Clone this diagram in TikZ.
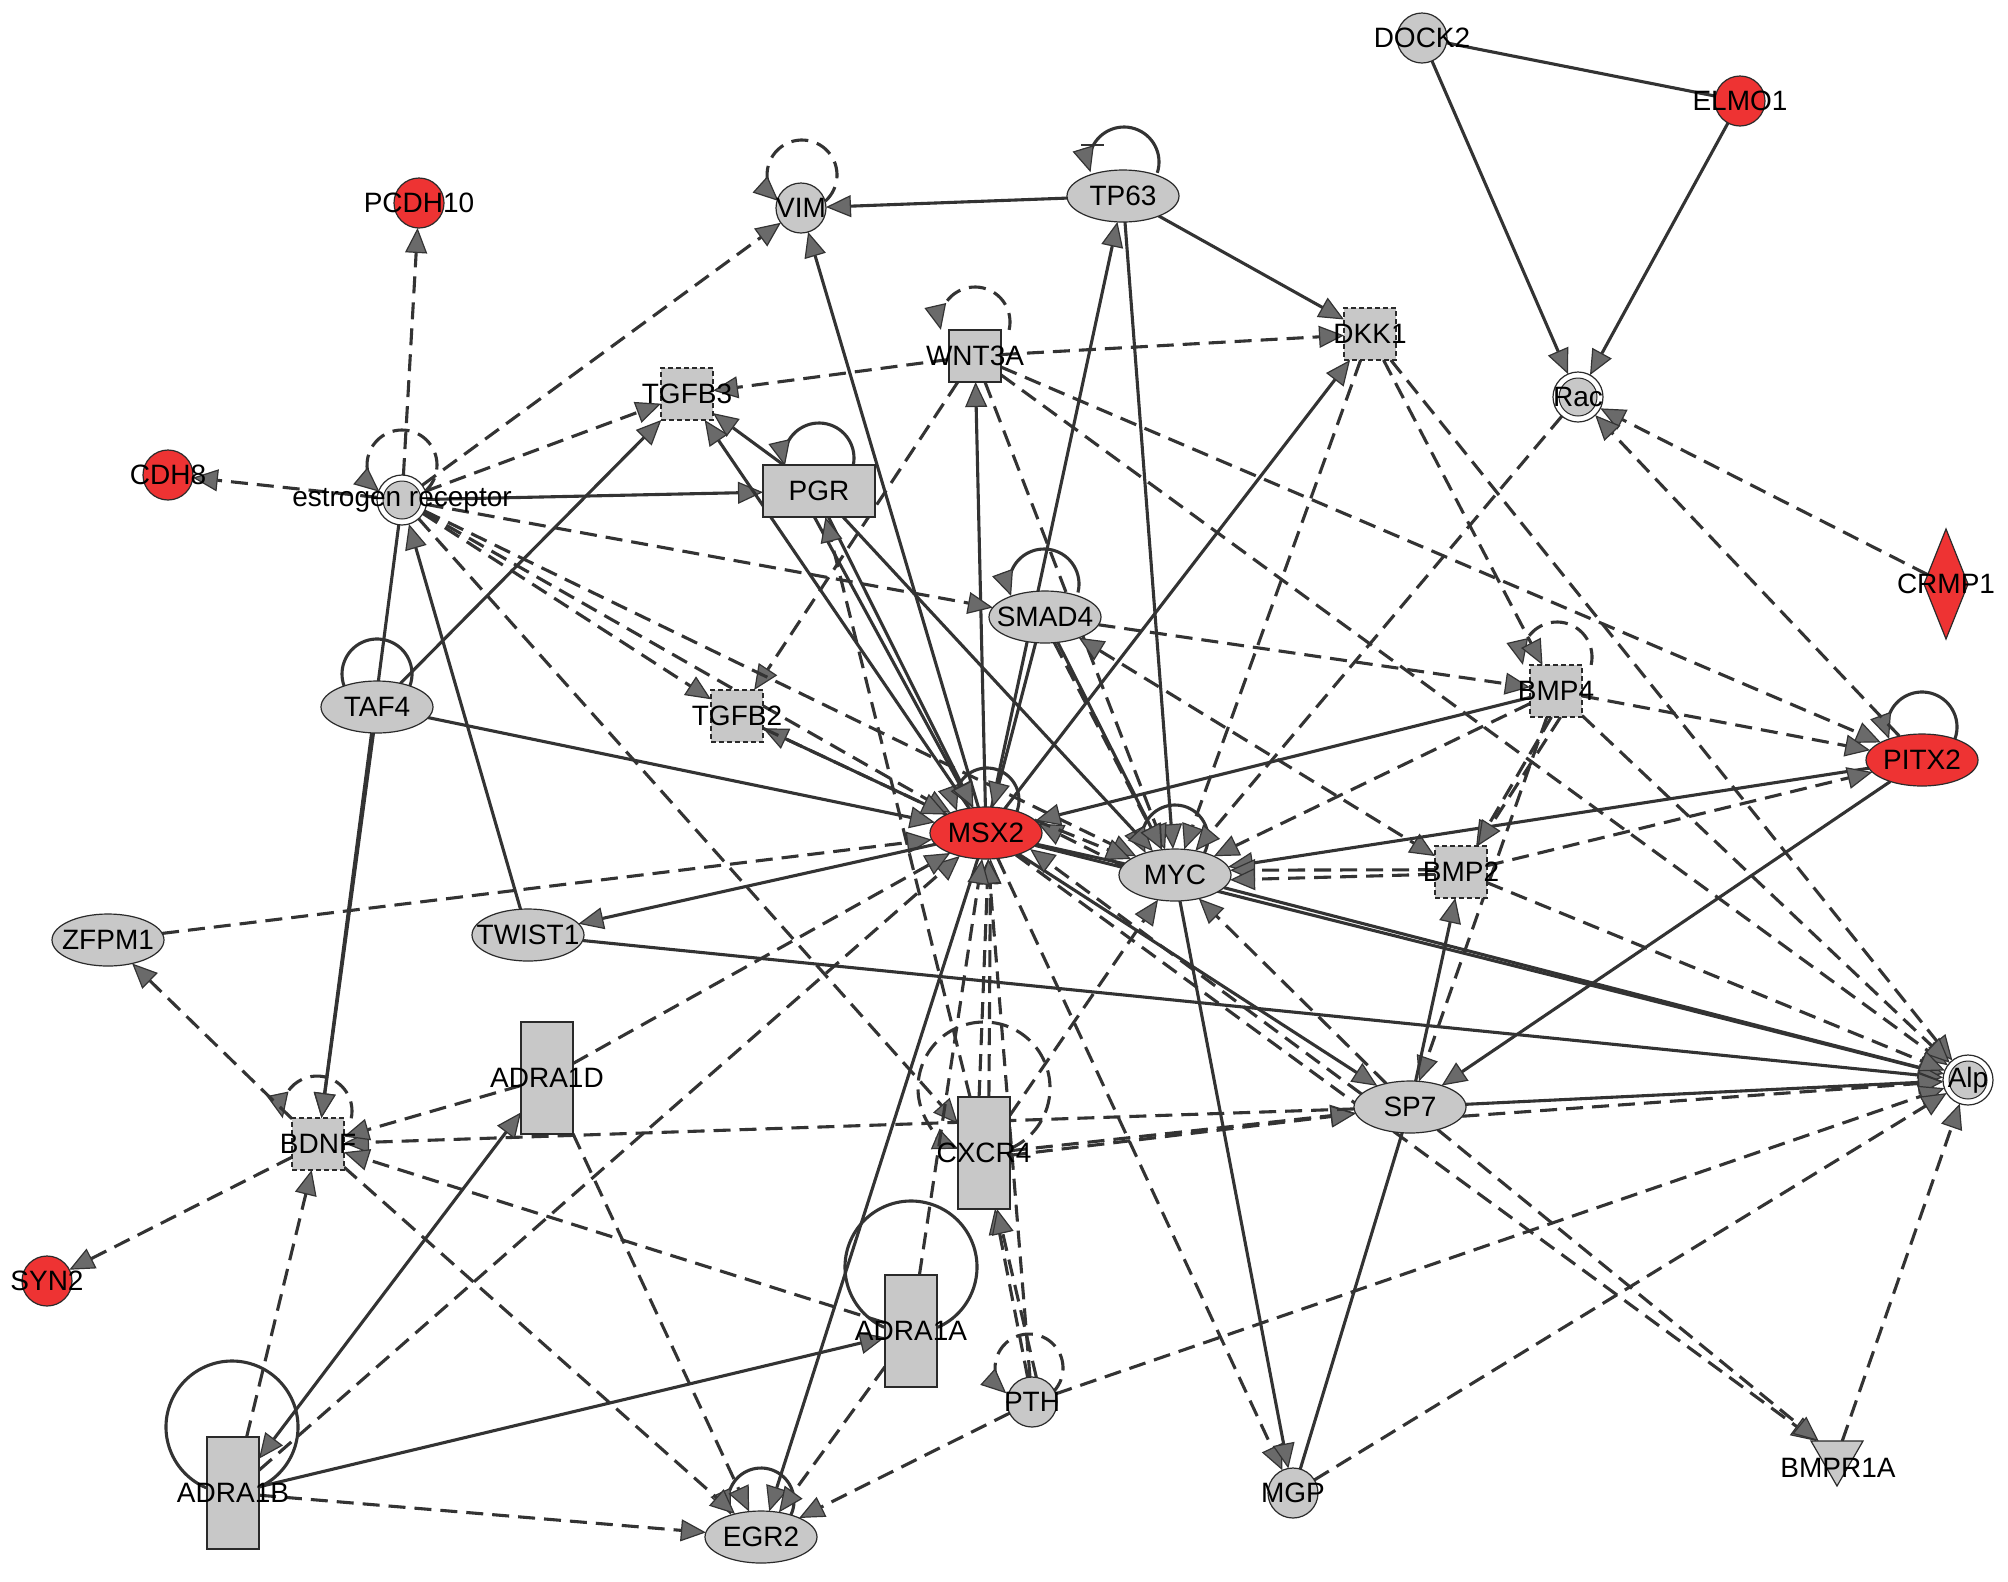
\documentclass[tikz,border=0pt]{standalone}
\usepackage{fontspec}
\setmainfont{Liberation Sans}
\usetikzlibrary{arrows.meta,shapes.geometric,calc}
\definecolor{ndgray}{HTML}{C8C8C8}
\definecolor{ndred}{HTML}{EE3333}
\definecolor{edgec}{HTML}{333333}
\definecolor{arrowc}{HTML}{6A6A6A}
\definecolor{bordc}{HTML}{2A2A2A}
\pgfdeclarelayer{edgelayer}
\pgfsetlayers{edgelayer,main}
\tikzset{
  base/.style={draw=bordc,line width=0.6pt,inner sep=0pt,outer sep=0pt},
  lab/.style={font=\fontsize{14pt}{16pt}\selectfont,text=black,inner sep=0pt},
  circg/.style={base,circle,fill=ndgray,minimum size=25pt},
  circr/.style={circg,fill=ndred},
  dcirc/.style={base,circle,fill=white,minimum size=25pt,
    path picture={\fill[ndgray,draw=bordc,line width=0.5pt] (path picture bounding box.center) circle (9.5pt);}},
  ellg/.style={base,ellipse,fill=ndgray,minimum width=56pt,minimum height=26pt},
  ellr/.style={ellg,fill=ndred},
  sqs/.style={base,rectangle,fill=ndgray,minimum width=26pt,minimum height=26pt},
  sqd/.style={sqs,dash pattern=on 2.5pt off 1.5pt},
  tallr/.style={base,rectangle,fill=ndgray,minimum width=26pt,minimum height=56pt},
  widr/.style={base,rectangle,fill=ndgray,minimum width=56pt,minimum height=26pt},
  ed/.style={draw=edgec,line width=1.55pt},
  dsh/.style={dash pattern=on 8.5pt off 4.5pt},
  sl/.style={ed},
  dl/.style={ed,dsh},
  sa/.style={ed,-{Triangle[length=12.5pt,width=11pt,fill=arrowc,line width=0.6pt]}},
  da/.style={sa,dsh},
  sab/.style={ed,{Triangle[length=12.5pt,width=11pt,fill=arrowc,line width=0.6pt]}-{Triangle[length=12.5pt,width=11pt,fill=arrowc,line width=0.6pt]}},
  dab/.style={sab,dsh},
}
\newcommand\sloop[6]{\draw[#2] ($(#1)+(#3)+(#5:#4)$) arc[start angle=#5,end angle=#6,radius=#4];}
\begin{document}
\begin{tikzpicture}[x=0.5pt,y=-0.5pt]
\useasboundingbox (0,0) rectangle (2008,1581);
% ---------- nodes ----------
\node[circg,label={[lab]center:DOCK2}] (dock2) at (1422,38) {};
\node[circr,label={[lab]center:ELMO1}] (elmo1) at (1740,101) {};
\node[dcirc,label={[lab]center:Rac}] (rac) at (1578,397) {};
\node[base,diamond,fill=ndred,minimum width=22pt,minimum height=55pt] (crmp1) at (1946,584) {};
\node[lab] at (1946,584) {CRMP1};
\node[ellr,label={[lab]center:PITX2}] (pitx2) at (1922,760) {};
\node[sqd,label={[lab]center:BMP4}] (bmp4) at (1556,691) {};
\node[dcirc,label={[lab]center:Alp}] (alp) at (1968,1080) {};
\node[base,regular polygon,regular polygon sides=3,shape border rotate=180,fill=ndgray,minimum size=30pt] (bmpr1a) at (1837,1456) {};
\node[lab] at (1838,1468) {BMPR1A};
\node[circg,label={[lab]center:MGP}] (mgp) at (1293,1493) {};
\node[ellg,label={[lab]center:SP7}] (sp7) at (1410,1107) {};
\node[circg,label={[lab]center:PTH}] (pth) at (1032,1402) {};
\node[tallr,label={[lab]center:CXCR4}] (cxcr4) at (984,1153) {};
\node[tallr,label={[lab]center:ADRA1A}] (adra1a) at (911,1331) {};
\node[ellg,label={[lab]center:EGR2}] (egr2) at (761,1537) {};
\node[tallr,label={[lab]center:ADRA1D}] (adra1d) at (547,1078) {};
\node[tallr,label={[lab]center:ADRA1B}] (adra1b) at (233,1493) {};
\node[circr,label={[lab]center:SYN2}] (syn2) at (47,1281) {};
\node[sqd,label={[lab]center:BDNF}] (bdnf) at (318,1144) {};
\node[ellg,label={[lab]center:ZFPM1}] (zfpm1) at (108,940) {};
\node[ellg,label={[lab]center:TWIST1}] (twist1) at (528,935) {};
\node[ellg,label={[lab]center:TAF4}] (taf4) at (377,707) {};
\node[dcirc,label={[lab]center:estrogen receptor}] (er) at (402,500) {};
\node[circr,label={[lab]center:CDH8}] (cdh8) at (168,475) {};
\node[circr,label={[lab]center:PCDH10}] (pcdh10) at (419,203) {};
\node[circg,label={[lab]center:VIM}] (vim) at (801,208) {};
\node[ellg,label={[lab]center:TP63}] (tp63) at (1123,196) {};
\node[sqd,label={[lab]center:DKK1}] (dkk1) at (1370,334) {};
\node[sqs,label={[lab]center:WNT3A}] (wnt3a) at (975,356) {};
\node[sqd,label={[lab]center:TGFB3}] (tgfb3) at (687,394) {};
\node[widr,label={[lab]center:PGR}] (pgr) at (819,491) {};
\node[sqd,label={[lab]center:TGFB2}] (tgfb2) at (737,716) {};
\node[ellg,label={[lab]center:SMAD4}] (smad4) at (1045,617) {};
\node[ellr,label={[lab]center:MSX2}] (msx2) at (986,833) {};
\node[ellg,label={[lab]center:MYC}] (myc) at (1175,875) {};
\node[sqd,label={[lab]center:BMP2}] (bmp2) at (1461,872) {};
% ---------- edges ----------
\begin{pgfonlayer}{edgelayer}
% self loops
\sloop{er}{da}{0,-35}{35}{50}{-230}
\sloop{vim}{da}{1,-33}{35}{48}{-228}
\sloop{tp63}{sa}{1,-34}{35}{18}{-197}
\draw[ed,line width=1.2pt] (1081,145) -- (1104,145);
\sloop{wnt3a}{da}{0,-34}{35}{13}{-193}
\sloop{pgr}{sa}{0,-33}{35}{13}{-193}
\sloop{smad4}{sa}{-1,-33}{35}{14}{-200}
\sloop{taf4}{sl}{0,-33}{35}{20}{-200}
\sloop{myc}{sa}{0,-37}{33}{27}{-207}
\sloop{bmp4}{da}{1,-34}{35}{13}{-193}
\sloop{pitx2}{sa}{0,-33}{35}{20}{-200}
\sloop{bdnf}{da}{-1,-33}{35}{12}{-192}
\sloop{cxcr4}{da}{0,-65}{66}{67}{-247}
\sloop{pth}{da}{-3,-34}{34}{48}{-228}
\sloop{adra1a}{sl}{0,-64}{66}{66}{-246}
\sloop{adra1b}{sl}{-1,-66}{66}{67}{-247}
\sloop{egr2}{sa}{0,-36}{33}{25}{-205}
\sloop{msx2}{sa}{1,-33}{32}{20}{-200}
% top right
\draw[sl] (dock2) -- (elmo1);
\draw[sa] (dock2) -- (rac);
\draw[sa] (elmo1) -- (rac);
\draw[da] (crmp1) -- (rac);
\draw[da] (pitx2) -- (rac);
\draw[da] (rac) -- (myc);
% TP63
\draw[sa] (tp63) -- (vim);
\draw[sa] (tp63) -- (dkk1);
\draw[sa] (msx2) -- (tp63);
\draw[sa] (tp63) -- (myc);
% VIM
\draw[da] (er) -- (vim);
\draw[sa] (msx2) -- (vim);
% WNT3A
\draw[da] (wnt3a) -- (tgfb3);
\draw[da] (wnt3a) -- (dkk1);
\draw[da] (wnt3a) -- (tgfb2);
\draw[sa] (msx2) -- (wnt3a);
\draw[da] (wnt3a) -- (myc);
\draw[da] (wnt3a) -- (pitx2);
\draw[da] (wnt3a) -- (alp);
% DKK1
\draw[sa] (msx2) -- (dkk1);
\draw[da] (dkk1) -- (myc);
\draw[da] (dkk1) -- (bmp4);
\draw[da] (dkk1) -- (alp);
% estrogen receptor
\draw[da] (er) -- (pcdh10);
\draw[da] (er) -- (cdh8);
\draw[da] (er) -- (tgfb3);
\draw[sa] (er) -- (pgr);
\draw[da] (er) -- (smad4);
\draw[da] (er) -- (tgfb2);
\draw[da] (er) -- (myc);
\draw[da] (er) -- (msx2);
\draw[da] (er) -- (cxcr4);
\draw[sa] (er) -- (bdnf);
\draw[sa] (twist1) -- (er);
% TGFB3
\draw[sa] (taf4) -- (tgfb3);
\draw[sa] (pgr) -- (tgfb3);
\draw[sa] (msx2) -- (tgfb3);
% PGR
\draw[sa] (pgr.-100) -- (msx2);
\draw[sa] (pgr.-70) -- (msx2);
\draw[sa] (pgr) -- (myc);
\draw[da] (cxcr4) -- (pgr);
% SMAD4
\draw[da] (smad4) -- (bmp4);
\draw[sa] (smad4.-110) -- (msx2);
\draw[sa] (smad4) -- (myc);
\draw[da] (smad4.-70) -- (myc);
\draw[dab] (smad4) -- (bmp2);
% MSX2
\draw[sa] (taf4) -- (msx2);
\draw[da] (zfpm1) -- (msx2);
\draw[sa] (msx2) -- (twist1);
\draw[sa] (msx2) -- (tgfb2);
\draw[da] (tgfb2) -- (msx2);
\draw[sa] (bmp4) -- (msx2);
\draw[da] (myc.170) -- (msx2.10);
\draw[da] (msx2.15) -- (myc.160);
\draw[sl] (msx2) -- (myc);
\draw[sa] (msx2) -- (sp7);
\draw[da] (sp7.165) -- (msx2.-20);
\draw[sa] (msx2) -- (alp);
\draw[da] (msx2) -- (mgp);
\draw[sa] (msx2) -- (egr2);
\draw[da] (adra1b) -- (msx2);
\draw[da] (adra1d) -- (msx2);
\draw[da] (cxcr4.95) -- (msx2.-85);
\draw[da] (cxcr4.85) -- (msx2.-80);
\draw[da] (pth) -- (msx2);
\draw[da] (adra1a) -- (msx2);
\draw[da] (msx2) -- (bmpr1a);
% MYC
\draw[da] (bmp4) -- (myc);
\draw[sa] (pitx2) -- (myc);
\draw[da] (bmp2.175) -- (myc.5);
\draw[da] (bmp2.185) -- (myc.-5);
\draw[da] (sp7) -- (myc);
\draw[sa] (myc) -- (mgp);
\draw[sa] (myc) -- (alp);
\draw[da] (cxcr4) -- (myc);
% BMP4
\draw[da] (bmp4) -- (pitx2);
\draw[da] (bmp4.-100) -- (bmp2);
\draw[da] (bmp4.-80) -- (bmp2);
\draw[da] (bmp4) -- (sp7);
\draw[da] (bmp4) -- (alp);
% PITX2
\draw[da] (bmp2) -- (pitx2);
\draw[sa] (pitx2) -- (sp7);
% Alp
\draw[sa] (twist1) -- (alp);
\draw[sa] (sp7) -- (alp);
\draw[da] (sp7.-10) -- (alp);
\draw[da] (bmp2) -- (alp);
\draw[da] (pth) -- (alp);
\draw[da] (mgp) -- (alp);
\draw[da] (bmpr1a) -- (alp);
% SP7
\draw[sa] (sp7) -- (bmp2);
\draw[da] (cxcr4.5) -- (sp7);
\draw[da] (cxcr4.-5) -- (sp7);
\draw[da] (sp7) -- (bdnf);
\draw[sl] (sp7) -- (mgp);
\draw[da] (sp7) -- (bmpr1a);
% BDNF
\draw[da] (bdnf) -- (zfpm1);
\draw[da] (bdnf) -- (syn2);
\draw[sa] (taf4) -- (bdnf);
\draw[da] (adra1d) -- (bdnf);
\draw[da] (adra1a) -- (bdnf);
\draw[da] (bdnf) -- (egr2);
\draw[da] (adra1b) -- (bdnf);
% EGR2
\draw[da] (adra1b) -- (egr2);
\draw[da] (adra1d) -- (egr2);
\draw[da] (adra1a) -- (egr2);
\draw[da] (pth) -- (egr2);
% ADRA
\draw[sa] (adra1b) -- (adra1a);
\draw[sab] (adra1d) -- (adra1b);
\draw[da] (pth.100) -- (cxcr4);
\draw[da] (pth.80) -- (cxcr4);
\end{pgfonlayer}
\end{tikzpicture}
\end{document}
